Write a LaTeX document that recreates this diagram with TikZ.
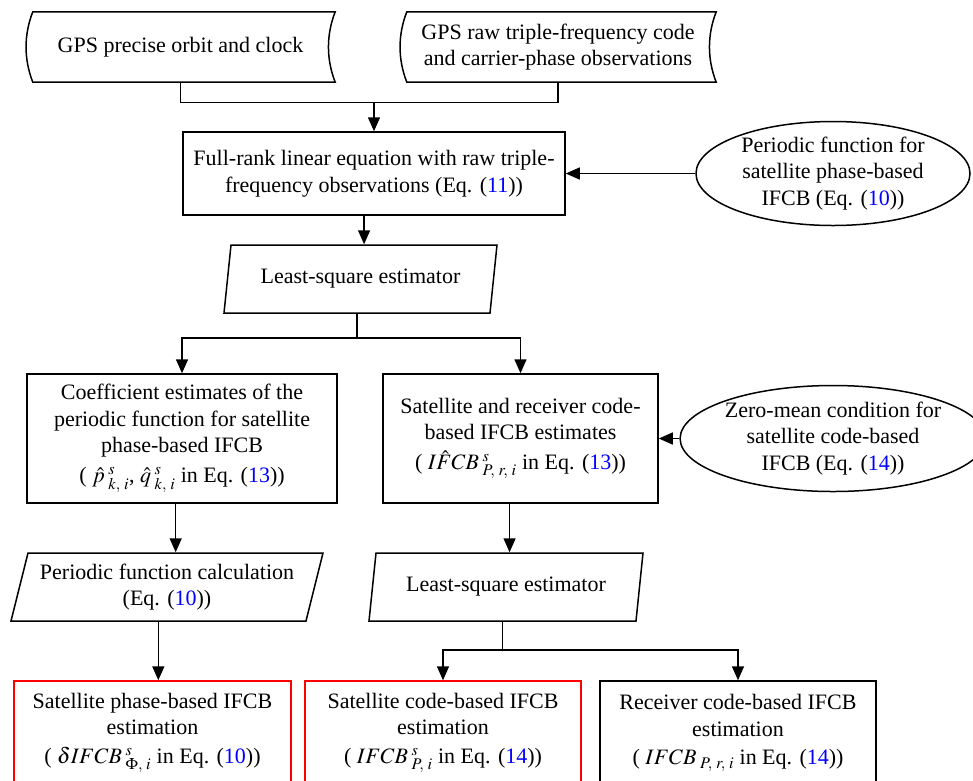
\documentclass[tikz,border=0pt]{standalone}
\usepackage{mathptmx}
\usepackage{fontspec}
\setmainfont{Liberation Serif}
\usepackage{tikz}
\usetikzlibrary{arrows.meta}
\usetikzlibrary{shapes.geometric}

\newcommand{\eqnum}[1]{\textcolor{blue}{#1}}

\tikzset{
  flowline/.style={line width=1.5pt},
  arr/.style={flowline, -{Triangle[length=14pt, width=12pt]}},
  box/.style={draw, flowline, align=center, inner sep=0pt},
  redbox/.style={box, draw=red},
  datastore/.style={align=center, inner sep=0pt},
  ellbox/.style={ellipse, draw, flowline, align=center, inner sep=0pt},
  parabox/.style={trapezium, trapezium left angle=70, trapezium right angle=110,
    trapezium stretches body, draw, flowline, align=center, inner sep=0pt},
}

\begin{document}
\begin{tikzpicture}[x=1pt, y=-1pt, every node/.style={font=\fontsize{22}{26.5}\selectfont}]
    \useasboundingbox (0, 0) rectangle (973, 780);
    \clip (0, 0) rectangle (973, 780);

    % inputs
    \node[datastore, minimum width=309pt, minimum height=70pt] (orbit) at (180.5, 47) {GPS precise orbit and clock};
    \node[datastore, minimum width=316pt, minimum height=70pt] (rawobs) at (558, 47) {GPS raw triple-frequency code\\and carrier-phase observations};
    \foreach \n in {orbit, rawobs}
      \draw[flowline] ([xshift=7pt]\n.north west) -- (\n.north east)
        .. controls +(-9, 23) and +(-9, -23) .. (\n.south east)
        -- ([xshift=7pt]\n.south west)
        .. controls +(-9, -23) and +(-9, 23) .. ([xshift=7pt]\n.north west) -- cycle;

    \node[box, minimum width=382pt, minimum height=83pt] (fullrank) at (374, 173.5) {Full-rank linear equation with raw triple-\\frequency observations (Eq. (\eqnum{11}))};
    \node[ellbox, minimum width=274pt, minimum height=104pt] (ellphase) at (833, 173.5) {Periodic function for\\satellite phase-based\\IFCB (Eq. (\eqnum{10}))};
    \node[parabox, minimum width=273pt, minimum height=68pt] (lsq1) at (360.5, 279) {Least-square estimator};

    % second row
    \node[box, minimum width=310pt, minimum height=129pt] (coeff) at (182, 438.5) {Coefficient estimates of the\\periodic function for satellite\\phase-based IFCB\\[3pt]( $\hat{p}^{\;s}_{\;k,\;i}$, $\hat{q}^{\;s}_{\;k,\;i}$ in Eq. (\eqnum{13}))};
    \node[box, minimum width=275pt, minimum height=129pt] (codeest) at (520.5, 438.5) {Satellite and receiver code-\\based IFCB estimates\\[3pt]( $I\hat{F}CB^{\;s}_{\;P,\;r,\;i}$ in Eq. (\eqnum{13}))};
    \node[ellbox, minimum width=274pt, minimum height=106pt] (ellcode) at (833, 438.5) {Zero-mean condition for\\satellite code-based\\IFCB (Eq. (\eqnum{14}))};

    \node[parabox, minimum width=312pt, minimum height=68pt] (percalc) at (167, 587) {Periodic function calculation\\(Eq. (\eqnum{10}))};
    \node[parabox, minimum width=274pt, minimum height=68pt] (lsq2) at (506, 587) {Least-square estimator};

    % results
    \node[redbox, minimum width=277pt, minimum height=104pt] (satphase) at (152.5, 733) {Satellite phase-based IFCB\\estimation\\[2pt]( $\delta IFCB^{\;s}_{\;\Phi,\;i}$ in Eq. (\eqnum{10}))};
    \node[redbox, minimum width=276pt, minimum height=104pt] (satcode) at (443, 733) {Satellite code-based IFCB\\estimation\\[2pt]( $IFCB^{\;s}_{\;P,\;i}$ in Eq. (\eqnum{14}))};
    \node[box, minimum width=276pt, minimum height=104pt] (reccode) at (738, 733) {Receiver code-based IFCB\\estimation\\[2pt]( $IFCB_{\;P,\;r,\;i}$ in Eq. (\eqnum{14}))};

    % connectors
    \coordinate (join1) at ([yshift=29pt]fullrank.north);
    \coordinate (split1) at ([yshift=-24pt]lsq1.bottom side);
    \coordinate (split2) at ([yshift=-28pt]lsq2.bottom side);
    \draw[flowline] (orbit) |- (join1) -| (rawobs);
    \draw[arr] (join1) -- (fullrank);
    \draw[arr] (ellphase) -- (fullrank);
    \draw[arr] (lsq1.top side |- fullrank.south) -- (lsq1.top side);
    \draw[flowline] (lsq1.bottom side) -- (split1);
    \draw[arr] (split1) -| (coeff);
    \draw[arr] (split1) -| (codeest);
    \draw[arr] (ellcode) -- (codeest);
    \draw[arr] (percalc.top side |- coeff.south) -- (percalc.top side);
    \draw[arr] (lsq2.top side |- codeest.south) -- (lsq2.top side);
    \draw[arr] (percalc.bottom side) -- (percalc.bottom side |- satphase.north);
    \draw[flowline] (lsq2.bottom side) -- (split2);
    \draw[arr] (split2) -| (satcode);
    \draw[arr] (split2) -| (reccode);
\end{tikzpicture}
\end{document}
